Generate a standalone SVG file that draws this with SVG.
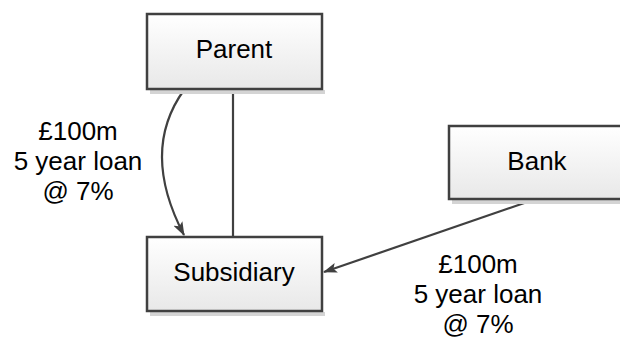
<svg xmlns="http://www.w3.org/2000/svg" width="620" height="340" viewBox="0 0 620 340">
<defs>
<linearGradient id="g" x1="0" y1="0" x2="0" y2="1">
<stop offset="0" stop-color="#ffffff"/>
<stop offset="1" stop-color="#e8e8e8"/>
</linearGradient>
<marker id="ah" viewBox="0 0 14 10" refX="13" refY="5" markerWidth="14" markerHeight="10" markerUnits="userSpaceOnUse" orient="auto">
<path d="M0,0 L14,5 L0,10 L3,5 Z" fill="#404040"/>
</marker>
</defs>
<style>
.box{fill:url(#g);stroke:#404040;stroke-width:2.5}
.sh{fill:#d4d4d4}
.lbl{font-family:"Liberation Sans",Arial,sans-serif;font-size:26px;fill:#000;text-anchor:middle}
.con{fill:none;stroke:#404040;stroke-width:2.2}
</style>
<g id="connectors">
<line class="con" x1="233" y1="89" x2="233" y2="237"/>
<path class="con" d="M184,90 Q140,151 184,235" marker-end="url(#ah)"/>
<line class="con" x1="533" y1="200" x2="324" y2="272" marker-end="url(#ah)"/>
</g>
<g id="parent">
<rect class="sh" x="150" y="90" width="175" height="4"/>
<rect class="box" x="147" y="14" width="175" height="75"/>
<text class="lbl" x="234" y="58">Parent</text>
</g>
<g id="subsidiary">
<rect class="sh" x="150" y="312" width="175" height="4"/>
<rect class="box" x="147" y="237" width="175" height="74"/>
<text class="lbl" x="234" y="281">Subsidiary</text>
</g>
<g id="bank">
<rect class="sh" x="452" y="200" width="185" height="4"/>
<rect class="box" x="449" y="126" width="185" height="73"/>
<text class="lbl" x="537" y="170">Bank</text>
</g>
<g id="label-left">
<text class="lbl" x="78" y="140">£100m</text>
<text class="lbl" x="78" y="170">5 year loan</text>
<text class="lbl" x="78" y="200">@ 7%</text>
</g>
<g id="label-right">
<text class="lbl" x="478" y="273">£100m</text>
<text class="lbl" x="478" y="303">5 year loan</text>
<text class="lbl" x="478" y="333">@ 7%</text>
</g>
</svg>
